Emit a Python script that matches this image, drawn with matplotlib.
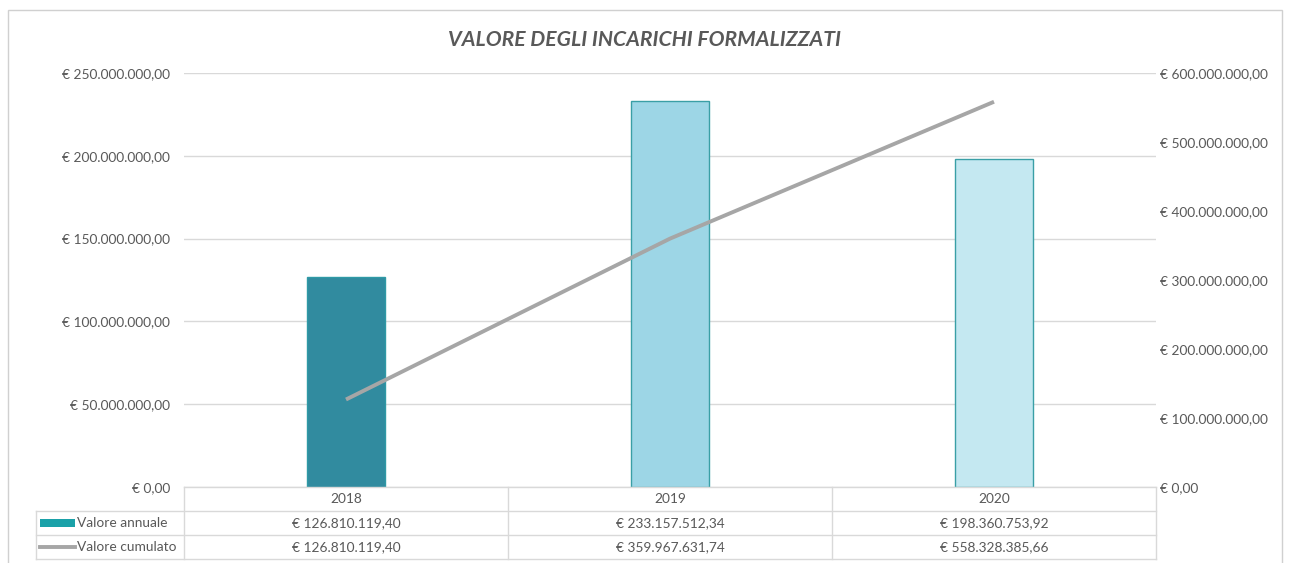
import matplotlib
matplotlib.use("Agg")
import matplotlib.pyplot as plt
from matplotlib.patches import Rectangle
from matplotlib.lines import Line2D
from matplotlib.ticker import FuncFormatter

plt.rcParams["font.family"] = ["Lato", "DejaVu Sans"]

# ---------------------------------------------------------------------------
# Data
# ---------------------------------------------------------------------------
years = ["2018", "2019", "2020"]
valore_annuale = [126810119.40, 233157512.34, 198360753.92]
valore_cumulato = [126810119.40, 359967631.74, 558328385.66]
left_ticks = [0, 50e6, 100e6, 150e6, 200e6, 250e6]
right_ticks = [0, 100e6, 200e6, 300e6, 400e6, 500e6, 600e6]
title = "VALORE DEGLI INCARICHI FORMALIZZATI"
series_names = ["Valore annuale", "Valore cumulato"]

BAR_FACE = ["#318b9f", "#9dd6e6", "#c4e8f1"]
BAR_EDGE = ["#2f9aa6", "#3a9fa6", "#3a9fa6"]
LINE_C = "#a6a6a6"
GRID_C = "#d9d9d9"
TEXT_C = "#595959"
FS = 9.9

W, H = 1289, 563


def euro(v):
    s = f"{v:,.2f}"  # 1,234.56
    s = s.replace(",", "X").replace(".", ",").replace("X", ".")
    return "€ " + s


# ---------------------------------------------------------------------------
# Figure
# ---------------------------------------------------------------------------
fig = plt.figure(figsize=(W / 100, H / 100), dpi=100)
fig.patch.set_facecolor("white")

# outer chart border
fig.add_artist(Rectangle((8 / W, -0.01), (1282 - 8) / W, 1 - 10 / H + 0.01,
                         transform=fig.transFigure, fill=False,
                         edgecolor="#d0d0d0", linewidth=1.0))

X0, X1, YT, YB = 184, 1156, 73, 487
ax = fig.add_axes([X0 / W, 1 - YB / H, (X1 - X0) / W, (YB - YT) / H])
ax2 = ax.twinx()

x = list(range(len(years)))
for i in x:
    ax.bar(i, valore_annuale[i], width=0.243, color=BAR_FACE[i],
           edgecolor=BAR_EDGE[i], linewidth=1.0, zorder=3)
ax.set_xlim(-0.5, len(years) - 0.5)
ax.set_ylim(0, 250e6)
ax.set_yticks(left_ticks)
ax.yaxis.set_major_formatter(FuncFormatter(lambda v, p: euro(v)))
ax.grid(axis="y", color=GRID_C, linewidth=1.0, zorder=0)
ax.set_axisbelow(True)
ax.set_xticks([])

ax2.plot(x, valore_cumulato, color=LINE_C, linewidth=2.8,
         solid_capstyle="butt", zorder=4)
ax2.set_ylim(0, 600e6)
ax2.set_yticks(right_ticks)
ax2.yaxis.set_major_formatter(FuncFormatter(lambda v, p: euro(v)))
ax2.set_xlim(-0.5, len(years) - 0.5)

for a in (ax, ax2):
    for sp in a.spines.values():
        sp.set_visible(False)
    a.tick_params(axis="y", length=0, labelsize=FS, labelcolor=TEXT_C)
ax.tick_params(axis="y", pad=10)
ax2.tick_params(axis="y", pad=3)

fig.text(0.5, 1 - 40 / H, title, ha="center", va="center", fontsize=15.2,
         fontweight="bold", fontstyle="italic", color=TEXT_C)

# ---------------------------------------------------------------------------
# Data table below the plot
# ---------------------------------------------------------------------------
ROW_H = 24
rows_y = [YB, YB + ROW_H, YB + 2 * ROW_H, YB + 3 * ROW_H]
col_x = [X0 + (X1 - X0) * k / 3 for k in range(4)]
LBL_X = 36


def fx(px):
    return px / W


def fy(py):
    return 1 - py / H


def hline(x0, x1, y):
    fig.add_artist(Line2D([fx(x0), fx(x1)], [fy(y), fy(y)],
                          transform=fig.transFigure, color=GRID_C, lw=1.0))


def vline(x, y0, y1):
    fig.add_artist(Line2D([fx(x), fx(x)], [fy(y0), fy(y1)],
                          transform=fig.transFigure, color=GRID_C, lw=1.0))


hline(X0, X1, rows_y[0])
for yy in rows_y[1:]:
    hline(LBL_X, X1, yy)
for cx in col_x:
    vline(cx, rows_y[0], rows_y[3])
vline(LBL_X, rows_y[1], rows_y[3])

for k, yr in enumerate(years):
    cx = (col_x[k] + col_x[k + 1]) / 2
    fig.text(fx(cx), fy(rows_y[0] + ROW_H / 2), yr, ha="center", va="center",
             fontsize=FS, color=TEXT_C)
    fig.text(fx(cx), fy(rows_y[1] + ROW_H / 2), euro(valore_annuale[k]),
             ha="center", va="center", fontsize=FS, color=TEXT_C)
    fig.text(fx(cx), fy(rows_y[2] + ROW_H / 2), euro(valore_cumulato[k]),
             ha="center", va="center", fontsize=FS, color=TEXT_C)

# legend keys in the row labels
fig.add_artist(Rectangle((fx(40), fy(rows_y[1] + 16)), 35 / W, 8 / H,
                         transform=fig.transFigure, facecolor="#1aa1a8",
                         edgecolor="none"))
fig.add_artist(Line2D([fx(40), fx(75)], [fy(rows_y[2] + 12)] * 2,
                      transform=fig.transFigure, color=LINE_C, lw=2.8))
for r, name in enumerate(series_names):
    fig.text(fx(77), fy(rows_y[r + 1] + ROW_H / 2), name, ha="left",
             va="center", fontsize=FS, color=TEXT_C)

fig.savefig("out.png", dpi=100)
